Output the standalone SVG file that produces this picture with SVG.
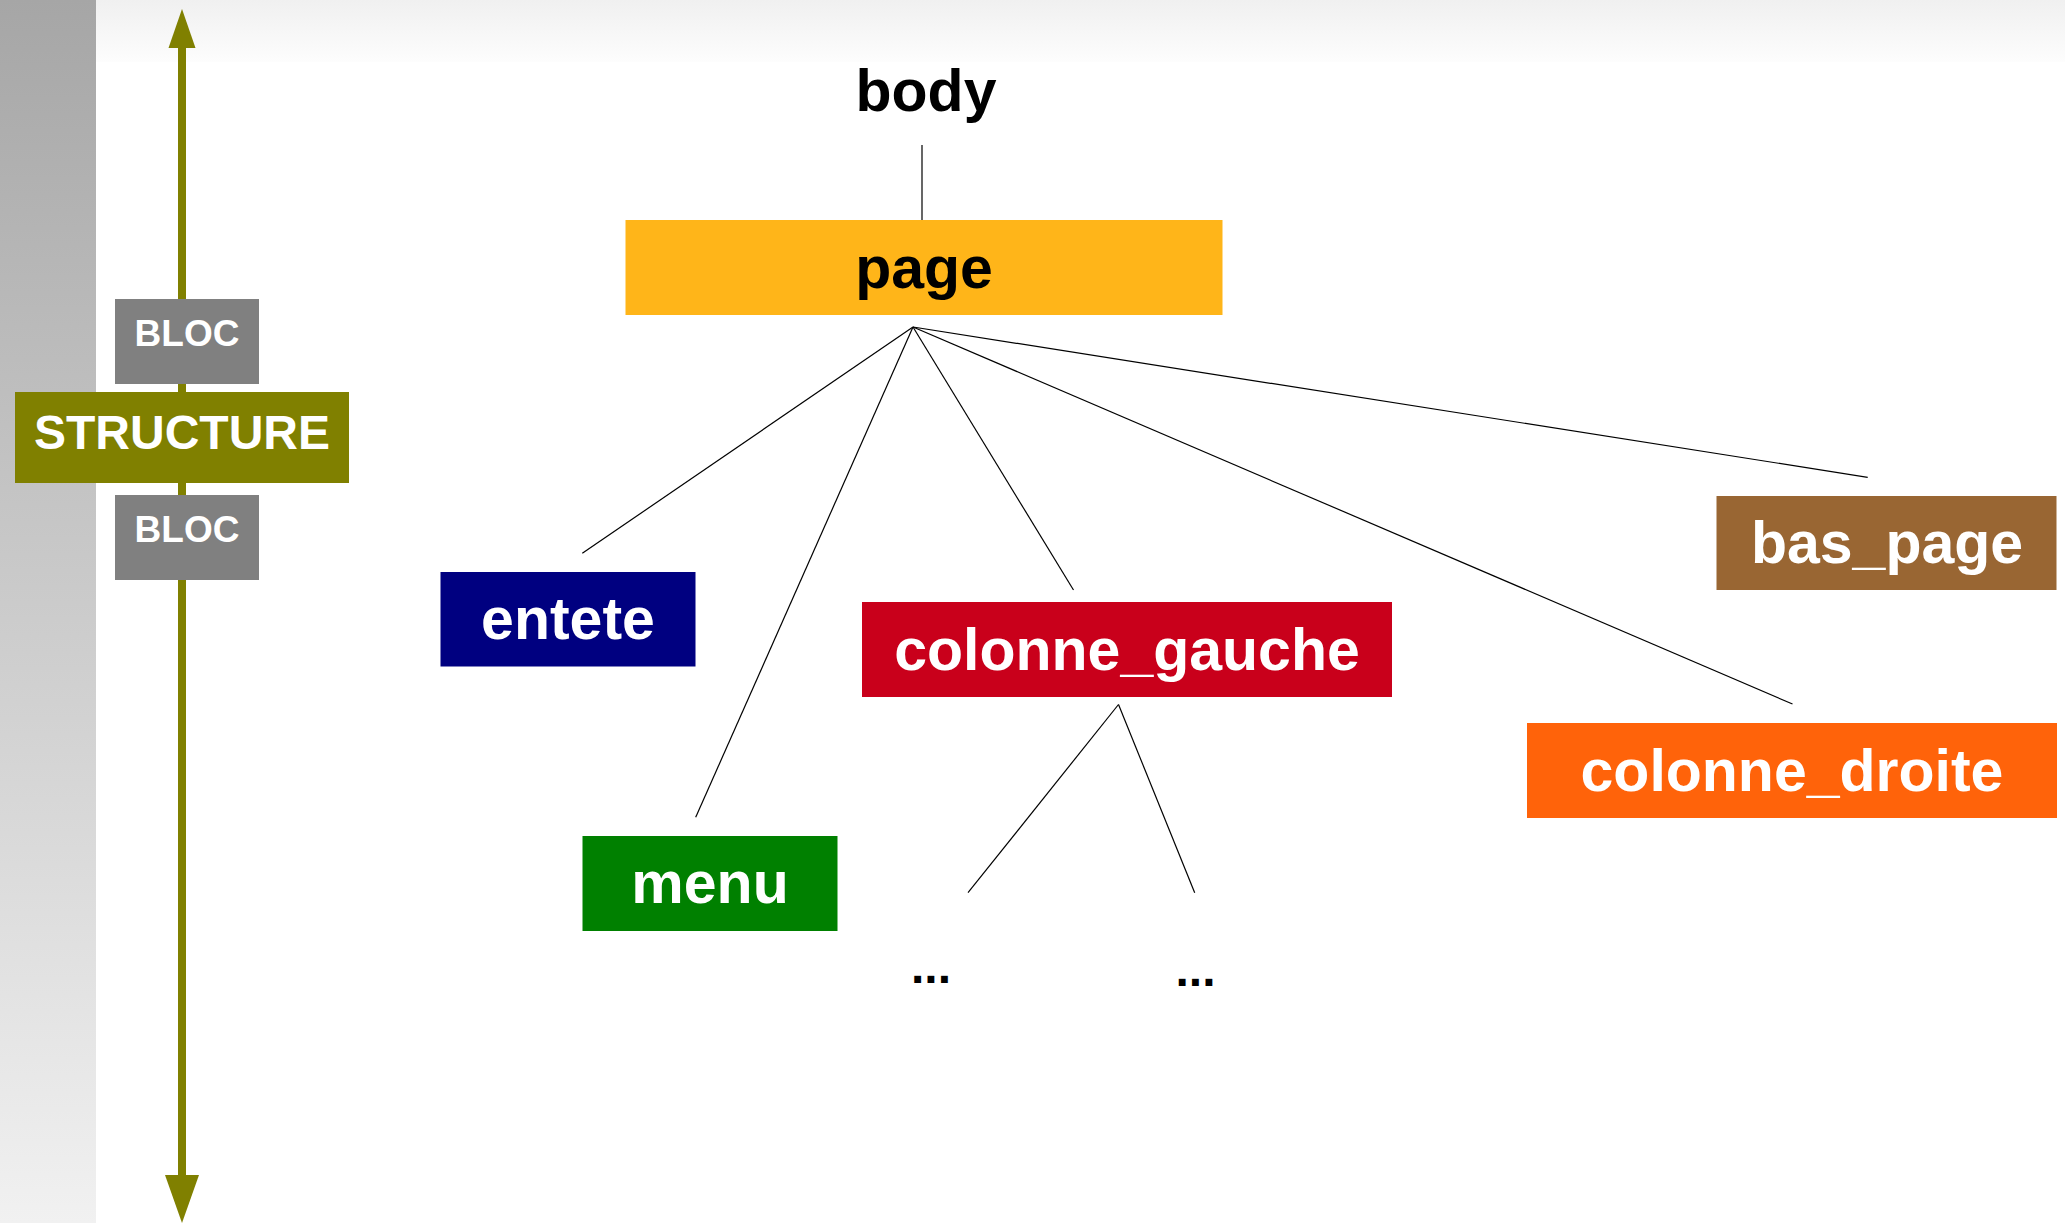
<svg xmlns="http://www.w3.org/2000/svg" width="2065" height="1223" viewBox="0 0 2065 1223">
  <defs>
    <linearGradient id="leftBand" x1="0" y1="0" x2="0" y2="1">
      <stop offset="0" stop-color="#a6a6a6"/>
      <stop offset="1" stop-color="#f1f1f1"/>
    </linearGradient>
    <linearGradient id="topBand" x1="0" y1="0" x2="0" y2="1">
      <stop offset="0" stop-color="#f0f0f0"/>
      <stop offset="1" stop-color="#fdfdfd"/>
    </linearGradient>
  </defs>
  <style>
    .lbl { font-family: "Liberation Sans", Arial, Helvetica, sans-serif; font-weight: bold; text-anchor: middle; }
    .big { font-size: 59px; }
    .white { fill: #ffffff; }
    .black { fill: #000000; }
    .conn { stroke: #000000; stroke-width: 1.2; fill: none; }
    .olive { fill: #808000; }
    .bloc { fill: #808080; }
  </style>

  <rect x="0" y="0" width="2065" height="1223" fill="#ffffff"/>
  <rect x="96" y="0" width="1969" height="62" fill="url(#topBand)"/>
  <rect x="0" y="0" width="96" height="1223" fill="url(#leftBand)"/>

  <g id="axis">
    <rect x="178" y="46" width="8" height="1131" class="olive"/>
    <polygon points="182,9 168.5,48 195.5,48" class="olive"/>
    <polygon points="182,1223 165,1175 199,1175" class="olive"/>
  </g>

  <g id="bloc-top">
    <rect x="115" y="299" width="144" height="85" class="bloc"/>
    <text x="187" y="346" class="lbl white" font-size="37">BLOC</text>
  </g>
  <g id="structure">
    <rect x="15" y="392" width="334" height="91" class="olive"/>
    <text x="182" y="449" class="lbl white" font-size="48">STRUCTURE</text>
  </g>
  <g id="bloc-bottom">
    <rect x="115" y="495" width="144" height="85" class="bloc"/>
    <text x="187" y="542" class="lbl white" font-size="37">BLOC</text>
  </g>

  <g id="connectors">
    <line x1="922" y1="145" x2="922" y2="220" class="conn" stroke-width="1.5"/>
    <line x1="913" y1="327" x2="582.3" y2="553.3" class="conn"/>
    <line x1="913" y1="327" x2="695.7" y2="817.3" class="conn"/>
    <line x1="913" y1="327" x2="1073.5" y2="590" class="conn"/>
    <line x1="913" y1="327" x2="1792.5" y2="704" class="conn"/>
    <line x1="913" y1="327" x2="1867.7" y2="477.3" class="conn"/>
    <line x1="1118.5" y1="704.5" x2="968" y2="892.7" class="conn"/>
    <line x1="1118.5" y1="704.5" x2="1194.7" y2="892.7" class="conn"/>
  </g>

  <g id="body">
    <text x="926" y="111" class="lbl big black">body</text>
  </g>
  <g id="page">
    <rect x="625.5" y="220" width="597" height="95" fill="#ffb519"/>
    <text x="924" y="288" class="lbl big black">page</text>
  </g>
  <g id="entete">
    <rect x="440.5" y="572" width="255" height="94.5" fill="#000080"/>
    <text x="568" y="639" class="lbl big white">entete</text>
  </g>
  <g id="menu">
    <rect x="582.5" y="836" width="255" height="95" fill="#008000"/>
    <text x="710" y="903" class="lbl big white">menu</text>
  </g>
  <g id="colonne_gauche">
    <rect x="862" y="602" width="530" height="95" fill="#c9001b"/>
    <text x="1127" y="669.5" class="lbl big white">colonne_gauche</text>
  </g>
  <g id="bas_page">
    <rect x="1716.5" y="496" width="340" height="94" fill="#996633"/>
    <text x="1887" y="563" class="lbl big white">bas_page</text>
  </g>
  <g id="colonne_droite">
    <rect x="1527" y="723" width="530" height="95" fill="#ff630a"/>
    <text x="1792" y="790.5" class="lbl big white">colonne_droite</text>
  </g>
  <g id="dots-left">
    <text x="931" y="983" class="lbl black" font-size="48" font-weight="normal">...</text>
  </g>
  <g id="dots-right">
    <text x="1195.5" y="986" class="lbl black" font-size="48" font-weight="normal">...</text>
  </g>
</svg>
